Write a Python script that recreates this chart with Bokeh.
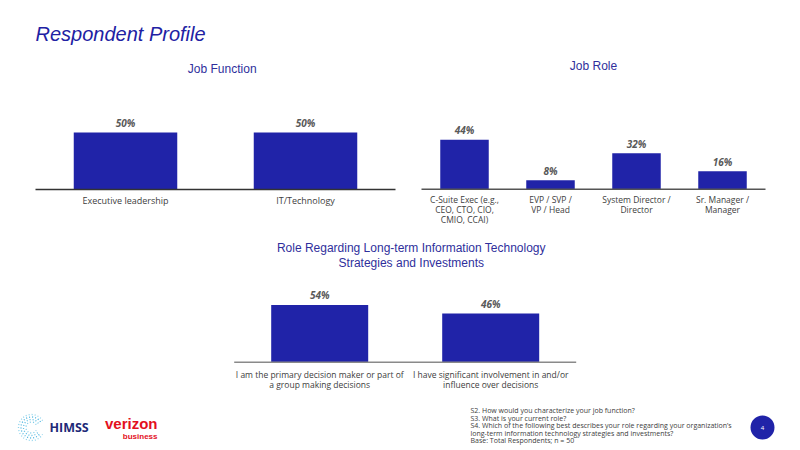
from bokeh.plotting import figure
from bokeh.models import Range1d
from bokeh.core.properties import value
from bokeh.embed import file_html
from bokeh.resources import INLINE

# ---------------- data ----------------
jf_categories = ["Executive leadership", "IT/Technology"]
jf_values = [50, 50]

jr_categories = ["C-Suite Exec (e.g.,\nCEO, CTO, CIO,\nCMIO, CCAI)", "EVP / SVP /\nVP / Head",
                 "System Director /\nDirector", "Sr. Manager /\nManager"]
jr_values = [44, 8, 32, 16]

lt_categories = ["I am the primary decision maker or part of\na group making decisions",
                 "I have significant involvement in and/or\ninfluence over decisions"]
lt_values = [54, 46]

page_title = "Respondent Profile"
jf_title = "Job Function"
jr_title = "Job Role"
lt_title = "Role Regarding Long-term Information Technology\nStrategies and Investments"
footnote = ("S2. How would you characterize your job function?\n"
            "S3. What is your current role?\n"
            "S4. Which of the following best describes your role regarding your organization\u2019s\n"
            "long-term information technology strategies and investments?\n"
            "Base: Total Respondents; n = 50")
page_number = "4"

# ---------------- style ----------------
W, H = 800, 450
BAR = "#2023a8"
TITLE_BLUE = "#2121a3"
SUB_BLUE = "#2f2f9c"
LABEL_GRAY = "#404040"
PCT_GRAY = "#595959"
BODY_FONT = value("Open Sans")
HEAD_FONT = value("Liberation Sans")

p = figure(width=W, height=H, x_range=Range1d(0, W), y_range=Range1d(H, 0),
           output_backend="svg", toolbar_location=None, min_border=0,
           x_axis_location=None, y_axis_location=None)
p.grid.visible = False
p.outline_line_color = None
p.background_fill_color = "white"
p.border_fill_color = "white"


def multiline(xs, ys, texts, first_offset, line_px, **kw):
    """Draw multi-line texts one line at a time with a fixed line pitch."""
    split = [t.split("\n") for t in texts]
    n = max(len(s) for s in split)
    for j in range(n):
        sel = [i for i, s in enumerate(split) if len(s) > j]
        p.text(x=[xs[i] for i in sel], y=[ys[i] for i in sel],
               text=[split[i][j] for i in sel], y_offset=first_offset + j * line_px, **kw)


def add_chart(name, cats, vals, first_center, spacing, baseline, px_per_pct, bar_px,
              axis_color, cat_offset, cat_size):
    # map chart index/percent space onto the page
    p.extra_x_ranges[name] = Range1d(-first_center / spacing, (W - first_center) / spacing)
    p.extra_y_ranges[name] = Range1d((baseline - H) / px_per_pct, baseline / px_per_pct)
    idx = list(range(len(cats)))
    p.vbar(x=idx, top=vals, bottom=0, width=bar_px / spacing, fill_color=BAR,
           line_color=None, x_range_name=name, y_range_name=name)
    p.segment(x0=[-0.5], x1=[len(cats) - 0.5], y0=[0], y1=[0], line_color=axis_color,
              line_width=1.6, x_range_name=name, y_range_name=name)
    p.text(x=idx, y=vals, text=[f"{v}%" for v in vals], text_align="center",
           text_baseline="middle", y_offset=-9.5, text_font=BODY_FONT,
           text_font_size="10px", text_font_style="bold italic", text_color=PCT_GRAY,
           x_range_name=name, y_range_name=name)
    multiline(idx, [0] * len(cats), cats, cat_offset, 10, text_align="center",
              text_baseline="middle", text_font=BODY_FONT, text_font_size=cat_size,
              text_color=LABEL_GRAY, x_range_name=name, y_range_name=name)


add_chart("jf", jf_categories, jf_values, 125, 180, 189, 1.14, 103.5, "#333333", 11, "9px")
add_chart("jr", jr_categories, jr_values, 464, 86, 188.7, 1.125, 48.5, "#555555", 10.5, "8.5px")
add_chart("lt", lt_categories, lt_values, 319.2, 171, 361.7, 1.06, 97, "#8a8a8a", 11.8, "8.5px")

# ---------------- titles ----------------
p.text(x=[35], y=[33], text=[page_title], text_font=HEAD_FONT, text_font_size="20px",
       text_font_style="italic", text_color=TITLE_BLUE, text_baseline="middle",
       text_align="left")
p.text(x=[221.7], y=[68], text=[jf_title], text_font=HEAD_FONT, text_font_size="12px",
       text_color=SUB_BLUE, text_baseline="middle", text_align="center")
p.text(x=[593], y=[65], text=[jr_title], text_font=HEAD_FONT, text_font_size="12px",
       text_color=SUB_BLUE, text_baseline="middle", text_align="center")
multiline([410.8], [247.3], [lt_title], 0, 15.4, text_font=HEAD_FONT,
          text_font_size="12px", text_color=SUB_BLUE, text_baseline="middle",
          text_align="center")

# ---------------- footnote & page number ----------------
multiline([470], [410], [footnote], 0, 7.5, text_font=BODY_FONT, text_font_size="7px",
          text_color=LABEL_GRAY, text_baseline="middle", text_align="left")
p.scatter(x=[762], y=[427], size=24, marker="circle", fill_color=BAR, line_color=None)
p.text(x=[762], y=[427], text=[page_number], text_font=BODY_FONT, text_font_size="6px",
       text_color="white", text_baseline="middle", text_align="center")

# ---------------- logos ----------------
for r, c in [(5.5, "#7ccbe8"), (8, "#5bbde3"), (10.5, "#48b3df"), (13, "#8fd3ec")]:
    p.arc(x=[31], y=[427], radius=r, start_angle=0.55, end_angle=-0.55,
          direction="anticlock", line_color=c, line_width=1.3, line_dash="1 2")
p.text(x=[49], y=[427], text=["HIMSS"], text_font=BODY_FONT, text_font_size="12.5px",
       text_font_style="bold", text_color="#1e2a78", text_baseline="middle",
       text_align="left")
p.text(x=[157], y=[423], text=["verizon"], text_font=value("Liberation Sans"),
       text_font_size="15px", text_font_style="bold", text_color="#e3101d",
       text_baseline="middle", text_align="right")
p.text(x=[157], y=[435.5], text=["business"], text_font=value("Liberation Sans"),
       text_font_size="8px", text_font_style="bold", text_color="#e3101d",
       text_baseline="middle", text_align="right")

open("out.html", "w").write(file_html(p, INLINE))
